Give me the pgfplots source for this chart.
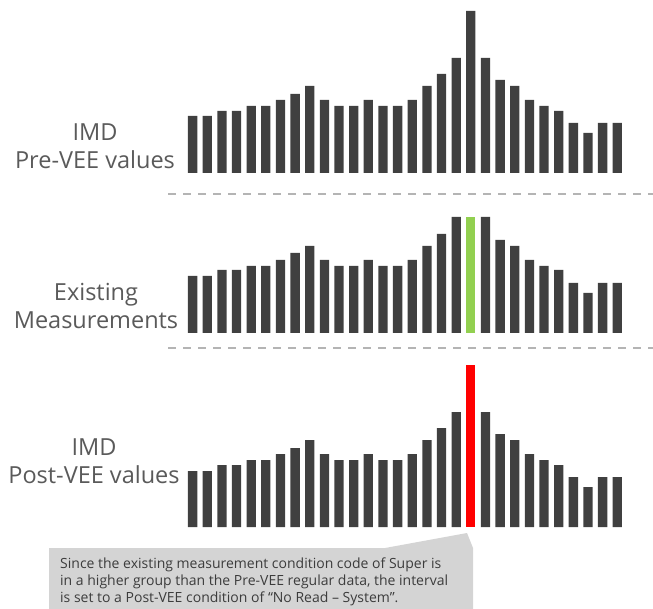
\documentclass[border=0pt]{standalone}
\usepackage{fontspec}
\setmainfont{Open Sans}
\usepackage{pgfplots}
\pgfplotsset{compat=1.18}
\definecolor{bargray}{HTML}{404040}
\definecolor{labgray}{HTML}{5A5A5A}
\definecolor{okgreen}{HTML}{92D050}
\definecolor{sepgray}{HTML}{B4B4B4}
\definecolor{boxgray}{HTML}{D4D4D4}
\definecolor{txtgray}{HTML}{3C3C3C}
\pgfplotsset{
  panel/.style={
    scale only axis, hide axis, clip=false,
    anchor=south west,
    width=439.3pt,
    xmin=-0.5, xmax=29.5, ymin=0,
    ybar, bar width=9.3pt, bar shift=0pt,
  },
}
\begin{document}
\begin{tikzpicture}[x=1pt,y=1pt]
\useasboundingbox (0,0) rectangle (653,-609);
\clip (0,0) rectangle (653,-609);
% ---------- top panel ----------
\begin{axis}[panel, at={(185.3pt,-173pt)}, height=173pt, ymax=173]
\addplot[fill=bargray, draw=none] coordinates {
(0,57)(1,57)(2,62)(3,62)(4,67)(5,67)(6,73)(7,79)(8,87)(9,73)
(10,67)(11,67)(12,73)(13,67)(14,67)(15,73)(16,87)(17,99)(18,115)(19,162)
(20,115)(21,93)(22,87)(23,73)(24,67)(25,62)(26,50)(27,40)(28,50)(29,50)};
\end{axis}
% ---------- middle panel ----------
\begin{axis}[panel, at={(185.3pt,-333pt)}, height=139pt, ymax=139]
\addplot[fill=bargray, draw=none] coordinates {
(0,57)(1,57)(2,63)(3,63)(4,67)(5,67)(6,73)(7,80)(8,87)(9,73)
(10,67)(11,67)(12,73)(13,67)(14,67)(15,73)(16,87)(17,99)(18,116)
(20,116)(21,93)(22,87)(23,73)(24,67)(25,63)(26,50)(27,40)(28,50)(29,50)};
\addplot[fill=okgreen, draw=none] coordinates {(19,116)};
\end{axis}
% ---------- bottom panel ----------
\begin{axis}[panel, at={(185.3pt,-527pt)}, height=170pt, ymax=170]
\addplot[fill=bargray, draw=none] coordinates {
(0,56)(1,56)(2,62)(3,62)(4,67)(5,67)(6,73)(7,79)(8,87)(9,73)
(10,67)(11,67)(12,73)(13,67)(14,67)(15,73)(16,87)(17,99)(18,115)
(20,115)(21,93)(22,87)(23,73)(24,67)(25,62)(26,50)(27,40)(28,50)(29,50)};
\addplot[fill=red, draw=none] coordinates {(19,162)};
\end{axis}
% ---------- separators ----------
\draw[sepgray, line width=1.6pt, dash pattern=on 8pt off 7pt] (168,-194) -- (653,-194);
\draw[sepgray, line width=1.6pt, dash pattern=on 8pt off 7pt] (168,-348) -- (653,-348);
% ---------- labels ----------
\node[labgray, font=\fontsize{23.5}{28}\selectfont, align=center, anchor=center] at (95,-146) {IMD\\Pre-VEE values};
\node[labgray, font=\fontsize{23.5}{28}\selectfont, align=center, anchor=center] at (96,-306) {Existing\\Measurements};
\node[labgray, font=\fontsize{23.5}{28}\selectfont, align=center, anchor=center] at (94,-461) {IMD\\Post-VEE values};
% ---------- callout ----------
\fill[boxgray] (49,-548) -- (385,-548) -- (467,-533) -- (473,-548) -- (473,-615) -- (49,-615) -- cycle;
\node[txtgray, font=\fontsize{14}{17}\selectfont, align=left, anchor=base west, inner sep=0pt] at (60,-602)
{Since the existing measurement condition code of Super is\\
in a higher group than the Pre-VEE regular data, the interval\\
is set to a Post-VEE condition of “No Read -- System”.};
\end{tikzpicture}
\end{document}
